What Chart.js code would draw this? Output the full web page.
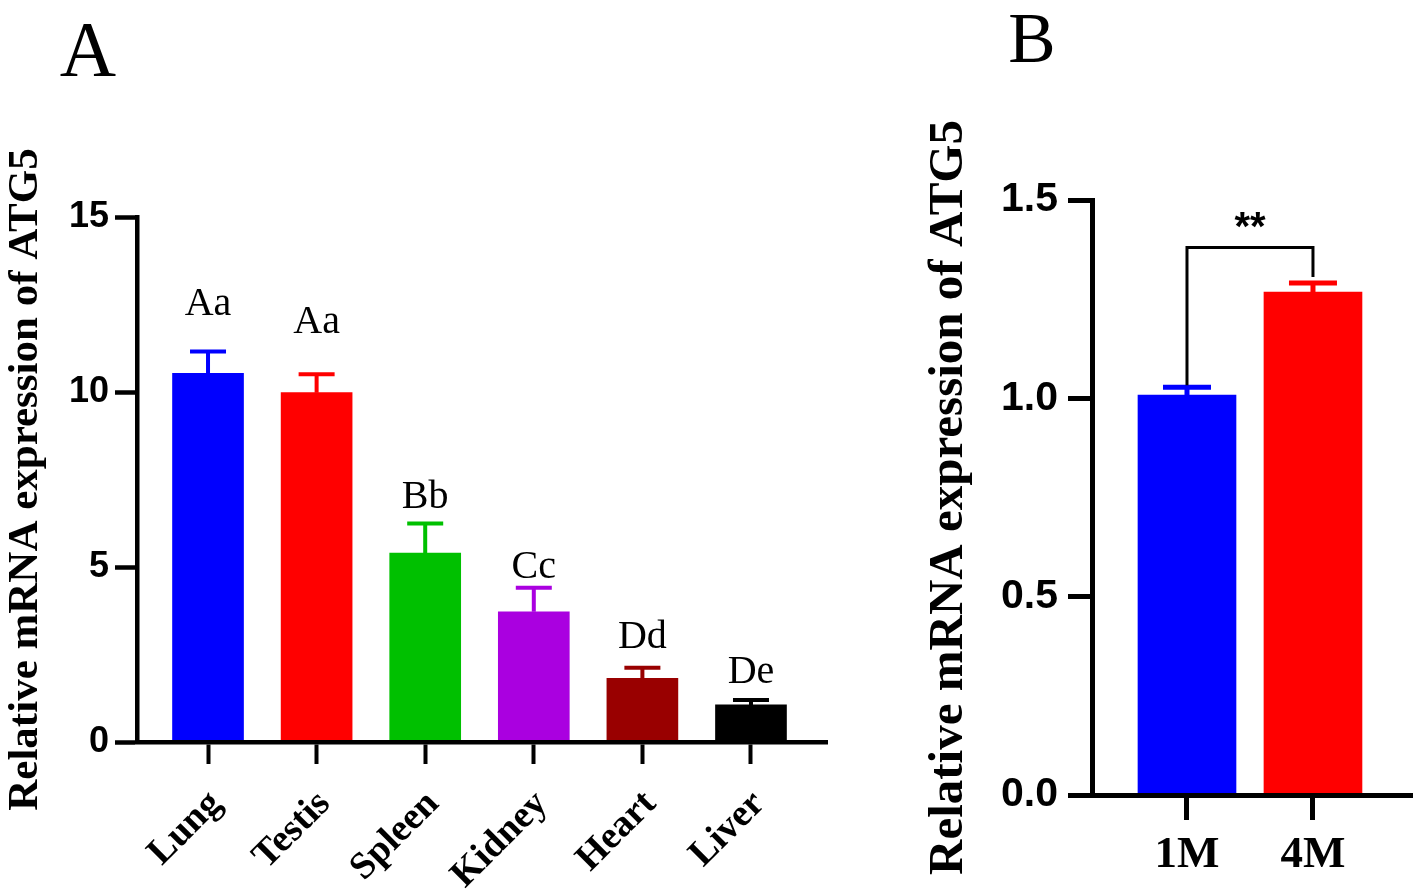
<!DOCTYPE html>
<html>
<head>
<meta charset="utf-8">
<script src="https://cdn.jsdelivr.net/npm/chart.js@4.4.0/dist/chart.umd.min.js"></script>
<style>
  html, body { margin: 0; padding: 0; background: #fff; overflow: hidden; }
  #wrap { position: relative; width: 1418px; height: 894px; }
  canvas { position: absolute; top: 0; }
  #chartA { left: 0; }
  #chartB { left: 920px; }
</style>
</head>
<body>
<div id="wrap">
  <canvas id="chartA" width="900" height="894"></canvas>
  <canvas id="chartB" width="498" height="894"></canvas>
</div>
<script>
// panel A : tissues
const tissues = ["Lung", "Testis", "Spleen", "Kidney", "Heart", "Liver"];
const tissueMeans = [10.53, 9.98, 5.40, 3.72, 1.82, 1.06];
const tissueSD = [0.63, 0.53, 0.84, 0.69, 0.30, 0.14];
const tissueLetters = ["Aa", "Aa", "Bb", "Cc", "Dd", "De"];
const letterLevels = [12.2, 11.7, 6.7, 4.7, 2.7, 1.7];
const tissueColors = ["#0000ff", "#ff0000", "#00c000", "#aa00e0", "#990000", "#000000"];
const ticksA = [0, 5, 10, 15];

// panel B : age
const ages = ["1M", "4M"];
const ageMeans = [1.008, 1.268];
const ageSD = [0.02, 0.023];
const ageColors = ["#0000ff", "#ff0000"];
const bracketLevel = 1.38;
const ticksB = [0, 0.5, 1.0, 1.5];

const yTitle = "Relative mRNA expression of ATG5";

// error bars (upper half only), drawn in the bar colour
const errorBars = {
  id: "errorBars",
  afterDatasetsDraw(chart, args, opts) {
    const ctx = chart.ctx;
    const y = chart.scales.y;
    const ds = chart.data.datasets[0];
    chart.getDatasetMeta(0).data.forEach((bar, i) => {
      const top = y.getPixelForValue(ds.data[i].y + opts.sd[i]);
      ctx.save();
      ctx.strokeStyle = ds.backgroundColor[i];
      ctx.lineWidth = opts.width;
      ctx.beginPath();
      ctx.moveTo(bar.x, bar.y);
      ctx.lineTo(bar.x, top);
      ctx.moveTo(bar.x - opts.cap, top);
      ctx.lineTo(bar.x + opts.cap, top);
      ctx.stroke();
      ctx.restore();
    });
  }
};

// big panel letter + significance letters / bracket
const annotations = {
  id: "annotations",
  afterDraw(chart, args, opts) {
    const ctx = chart.ctx;
    const y = chart.scales.y;
    const bars = chart.getDatasetMeta(0).data;
    ctx.save();
    ctx.fillStyle = "#000";
    ctx.textAlign = "center";
    ctx.textBaseline = "alphabetic";
    ctx.font = opts.panelSize + "px 'Liberation Serif'";
    ctx.fillText(opts.panel, opts.panelX, opts.panelY);

    if (opts.letters) {
      ctx.font = "40px 'Liberation Serif'";
      bars.forEach((bar, i) => {
        ctx.fillText(opts.letters[i], bar.x, y.getPixelForValue(opts.levels[i]));
      });
    }

    if (opts.bracket) {
      const ds = chart.data.datasets[0];
      const by = y.getPixelForValue(opts.bracket);
      const l = bars[0], r = bars[1];
      const lb = y.getPixelForValue(ds.data[0].y + opts.sd[0]) - 2;
      const rb = y.getPixelForValue(ds.data[1].y + opts.sd[1]) - 6;
      ctx.strokeStyle = "#000";
      ctx.lineWidth = 3;
      ctx.beginPath();
      ctx.moveTo(l.x, lb);
      ctx.lineTo(l.x, by);
      ctx.lineTo(r.x, by);
      ctx.lineTo(r.x, rb);
      ctx.stroke();
      ctx.font = "bold 40px 'Liberation Sans'";
      ctx.fillText("**", (l.x + r.x) / 2, by - 8);
    }
    ctx.restore();
  }
};

const axisLine = (w) => ({ display: true, width: w, color: "#000", z: 1 });
const tickMarks = (len, w) => ({ display: true, offset: false, drawOnChartArea: false, tickLength: len, tickWidth: w, tickColor: "#000" });

new Chart(document.getElementById("chartA"), {
  type: "bar",
  data: {
    datasets: [{
      data: tissues.map((t, i) => ({ x: i, y: tissueMeans[i] })),
      backgroundColor: tissueColors,
      barThickness: 71
    }]
  },
  options: {
    responsive: false,
    animation: false,
    devicePixelRatio: 1,
    layout: { padding: { left: 0, top: 217, right: 73, bottom: 0 } },
    plugins: {
      legend: { display: false },
      tooltip: { enabled: false },
      errorBars: { sd: tissueSD, width: 4, cap: 18 },
      annotations: { panel: "A", panelX: 88, panelY: 75, panelSize: 78, letters: tissueLetters, levels: letterLevels }
    },
    scales: {
      x: {
        type: "linear",
        offset: false,
        min: -0.654,
        max: 5.70,
        afterBuildTicks: s => { s.ticks = tissues.map((t, i) => ({ value: i })); },
        afterFit: s => { s.height = 152; },
        ticks: {
          callback: v => tissues[v],
          autoSkip: false,
          minRotation: 45,
          maxRotation: 45,
          padding: 18,
          labelOffset: 8,
          color: "#000",
          font: { family: "Liberation Serif", weight: "bold", size: 38 }
        },
        grid: tickMarks(22, 4),
        border: axisLine(4.5)
      },
      y: {
        min: 0,
        max: 15,
        afterBuildTicks: s => { s.ticks = ticksA.map(v => ({ value: v })); },
        afterFit: s => { s.width = 137; },
        ticks: { padding: 6, color: "#000", font: { family: "Liberation Sans", weight: "bold", size: 36 } },
        grid: tickMarks(22, 4.5),
        border: axisLine(4.5),
        title: {
          display: true,
          text: yTitle,
          color: "#000",
          padding: 0,
          font: { family: "Liberation Serif", weight: "bold", size: 43, lineHeight: 1.2 }
        }
      }
    }
  },
  plugins: [errorBars, annotations]
});

new Chart(document.getElementById("chartB"), {
  type: "bar",
  data: {
    datasets: [{
      data: ages.map((a, i) => ({ x: i, y: ageMeans[i] })),
      backgroundColor: ageColors,
      barThickness: 98
    }]
  },
  options: {
    responsive: false,
    animation: false,
    devicePixelRatio: 1,
    layout: { padding: { left: 0, top: 200, right: 6, bottom: 0 } },
    plugins: {
      legend: { display: false },
      tooltip: { enabled: false },
      errorBars: { sd: ageSD, width: 5, cap: 24 },
      annotations: { panel: "B", panelX: 112, panelY: 62, panelSize: 71, bracket: bracketLevel, sd: ageSD }
    },
    scales: {
      x: {
        type: "linear",
        offset: false,
        min: -0.754,
        max: 1.786,
        afterBuildTicks: s => { s.ticks = ages.map((a, i) => ({ value: i })); },
        afterFit: s => { s.height = 99; },
        ticks: {
          callback: v => ages[v],
          autoSkip: false,
          maxRotation: 0,
          padding: 8,
          color: "#000",
          font: { family: "Liberation Serif", weight: "bold", size: 45 }
        },
        grid: tickMarks(25, 5),
        border: axisLine(5)
      },
      y: {
        min: 0,
        max: 1.5,
        afterBuildTicks: s => { s.ticks = ticksB.map(v => ({ value: v })); },
        afterFit: s => { s.width = 172; },
        ticks: {
          callback: v => v.toFixed(1),
          padding: 10,
          color: "#000",
          font: { family: "Liberation Sans", weight: "bold", size: 41 }
        },
        grid: tickMarks(24, 5),
        border: axisLine(5),
        title: {
          display: true,
          text: yTitle,
          color: "#000",
          padding: 0,
          font: { family: "Liberation Serif", weight: "bold", size: 49, lineHeight: 1.2 }
        }
      }
    }
  },
  plugins: [errorBars, annotations]
});
</script>
</body>
</html>
